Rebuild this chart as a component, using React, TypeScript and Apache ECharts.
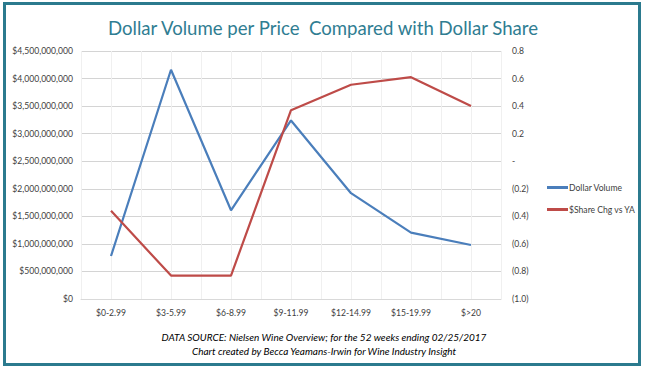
import React, { useEffect, useRef } from "react";
import * as echarts from "echarts";

const categories = ["$0-2.99", "$3-5.99", "$6-8.99", "$9-11.99", "$12-14.99", "$15-19.99", "$>20"];
const dollarVolume = [780000000, 4160000000, 1610000000, 3240000000, 1920000000, 1205000000, 980000000];
const shareChg = [-0.36, -0.83, -0.83, 0.37, 0.555, 0.61, 0.4];
const halfSlots = ["a", "b", "c", "d", "e", "f", "g", "h", "i", "j", "k", "l", "m", "n"];

const FONT = "Lato, 'Open Sans', sans-serif";
const LABEL_SIZE = 8.6;

export default function App() {
  const ref = useRef<HTMLDivElement>(null);
  useEffect(() => {
    if (!ref.current) return;
    const chart = echarts.init(ref.current, null, { renderer: "svg" });
    chart.setOption({
      animation: false,
      backgroundColor: "#ffffff",
      title: {
        text: "Dollar Volume per Price  Compared with Dollar Share",
        left: "center",
        top: 13,
        textStyle: { color: "#2f7d92", fontSize: 18.6, fontWeight: "normal", fontFamily: FONT },
      },
      legend: {
        orient: "vertical",
        left: 542,
        top: 178,
        itemWidth: 21,
        itemHeight: 3,
        itemGap: 13,
        icon: "rect",
        textStyle: { fontSize: LABEL_SIZE, color: "#404040", fontFamily: FONT, padding: [0, 0, 0, -4] },
        data: ["Dollar Volume", "$Share Chg vs YA"],
      },
      grid: { left: 81, right: 145, top: 51, bottom: 70 },
      xAxis: [
        {
          type: "category",
          data: categories,
          boundaryGap: true,
          axisLine: { show: true, lineStyle: { color: "#d9d9d9" } },
          axisTick: { show: false },
          axisLabel: { color: "#404040", fontSize: LABEL_SIZE, fontFamily: FONT, margin: 9 },
          splitLine: { show: false },
        },
        {
          type: "category",
          data: halfSlots,
          position: "bottom",
          boundaryGap: true,
          axisLine: { show: false },
          axisTick: { show: false },
          axisLabel: { show: false },
          splitLine: { show: true, interval: 0, lineStyle: { color: "#f0f0f0", width: 1 } },
        },
      ],
      yAxis: [
        {
          type: "value",
          min: 0,
          max: 4500000000,
          interval: 500000000,
          axisLine: { show: false },
          axisTick: { show: false },
          axisLabel: {
            color: "#404040",
            fontSize: LABEL_SIZE,
            fontFamily: FONT,
            margin: 8,
            formatter: (v: number) => "$" + Math.round(v).toLocaleString("en-US"),
          },
          splitLine: { show: true, lineStyle: { color: "#d4d4d4" } },
        },
        {
          type: "value",
          min: -1.0,
          max: 0.8,
          interval: 0.2,
          axisLine: { show: false },
          axisTick: { show: false },
          axisLabel: {
            color: "#404040",
            fontSize: LABEL_SIZE,
            fontFamily: FONT,
            margin: 11,
            formatter: (v: number) => {
              const r = Math.round(v * 10) / 10;
              if (Math.abs(r) < 1e-9) return "-";
              if (r < 0) return "(" + Math.abs(r).toFixed(1) + ")";
              return r.toFixed(1);
            },
          },
          splitLine: { show: false },
        },
      ],
      series: [
        {
          name: "Dollar Volume",
          type: "line",
          data: dollarVolume,
          yAxisIndex: 0,
          xAxisIndex: 0,
          symbol: "none",
          lineStyle: { color: "#4a7ebb", width: 2.2 },
          itemStyle: { color: "#4a7ebb" },
        },
        {
          name: "$Share Chg vs YA",
          type: "line",
          data: shareChg,
          yAxisIndex: 1,
          xAxisIndex: 0,
          symbol: "none",
          lineStyle: { color: "#be4b48", width: 2.2 },
          itemStyle: { color: "#be4b48" },
        },
      ],
      graphic: [
        {
          type: "rect",
          shape: { x: 4.5, y: 3.5, width: 635, height: 361 },
          style: { fill: "none", stroke: "#2b7a8e", lineWidth: 3 },
          z: 100,
        },
        {
          type: "text",
          x: 324,
          y: 337,
          style: {
            text: "DATA SOURCE: Nielsen Wine Overview; for the 52 weeks ending 02/25/2017",
            fill: "#000000",
            font: "italic 10px " + FONT,
            align: "center",
            verticalAlign: "middle",
          },
        },
        {
          type: "text",
          x: 324,
          y: 351,
          style: {
            text: "Chart created by Becca Yeamans-Irwin for Wine Industry Insight",
            fill: "#000000",
            font: "italic 10px " + FONT,
            align: "center",
            verticalAlign: "middle",
          },
        },
      ],
    });
    return () => chart.dispose();
  }, []);
  return <div ref={ref} style={{ width: 646, height: 369, position: "fixed", left: 0, top: 0 }} />;
}
